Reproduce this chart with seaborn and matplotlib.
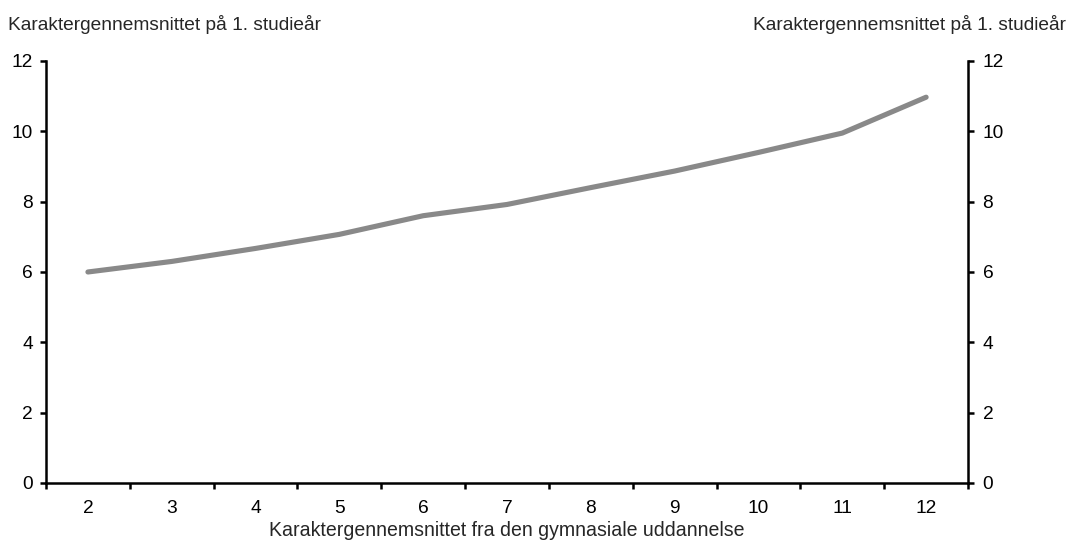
import matplotlib
matplotlib.use("Agg")
import matplotlib.pyplot as plt
import seaborn as sns
import pandas as pd
import numpy as np

# Grade averages: upper secondary (x) vs. first study year (y)
gymnasie_snit = [2, 3, 4, 5, 6, 7, 8, 9, 10, 11, 12]
studie_snit = [6.0, 6.3, 6.67, 7.07, 7.6, 7.92, 8.4, 8.87, 9.4, 9.95, 10.97]
y_ticks = [0, 2, 4, 6, 8, 10, 12]

y_title = "Karaktergennemsnittet på 1. studieår"
x_title = "Karaktergennemsnittet fra den gymnasiale uddannelse"

FS = 13.8

sns.set_style("white")
plt.rcParams["font.family"] = ["Liberation Sans", "DejaVu Sans"]
plt.rcParams["font.size"] = FS

df = pd.DataFrame({"x": gymnasie_snit, "y": studie_snit})

fig = plt.figure(figsize=(10.70, 5.43), dpi=100)
ax = fig.add_axes([0.043, 0.1105, 0.8617, 0.7772])

sns.lineplot(data=df, x="x", y="y", ax=ax, color="#898989",
             linewidth=3.7, solid_capstyle="round", solid_joinstyle="round")

ax.set_xlim(gymnasie_snit[0] - 0.5, gymnasie_snit[-1] + 0.5)
ax.set_ylim(y_ticks[0], y_ticks[-1])

# category boundaries carry the tick marks, labels sit at category centres
bounds = np.arange(gymnasie_snit[0] - 0.5, gymnasie_snit[-1] + 1, 1.0)
ax.set_xticks(bounds)
ax.set_xticklabels([])
ax.set_xticks(gymnasie_snit, minor=True)
ax.set_xticklabels([str(v) for v in gymnasie_snit], minor=True)
ax.tick_params(axis="x", which="major", direction="out", length=4.5, width=1.8,
               color="black", bottom=True)
ax.tick_params(axis="x", which="minor", length=0, pad=12, labelsize=FS,
               labelcolor="black")

ax.set_yticks(y_ticks)
ax.set_yticklabels([str(v) for v in y_ticks])
ax.tick_params(axis="y", direction="out", length=4.5, width=1.8, color="black",
               left=True, pad=5, labelsize=FS, labelcolor="black")

for side in ["left", "bottom"]:
    ax.spines[side].set_visible(True)
    ax.spines[side].set_color("black")
    ax.spines[side].set_linewidth(1.8)
ax.spines["top"].set_visible(False)
ax.spines["right"].set_visible(False)

ax.set_xlabel("")
ax.set_ylabel("")

ax2 = ax.twinx()
ax2.set_ylim(y_ticks[0], y_ticks[-1])
ax2.set_yticks(y_ticks)
ax2.set_yticklabels([str(v) for v in y_ticks])
ax2.tick_params(axis="y", direction="out", length=4.5, width=1.8, color="black",
                right=True, pad=6, labelsize=FS, labelcolor="black")
for side in ["top", "left", "bottom"]:
    ax2.spines[side].set_visible(False)
ax2.spines["right"].set_visible(True)
ax2.spines["right"].set_color("black")
ax2.spines["right"].set_linewidth(1.8)

fig.text(8 / 1070, 1 - 25 / 543, y_title, ha="left", va="center", fontsize=FS)
fig.text(1066 / 1070, 1 - 25 / 543, y_title, ha="right", va="center", fontsize=FS)
fig.text(507 / 1070, 1 - 531 / 543, x_title, ha="center", va="center", fontsize=FS * 1.02)

fig.savefig("out.png", dpi=100, facecolor="white")
